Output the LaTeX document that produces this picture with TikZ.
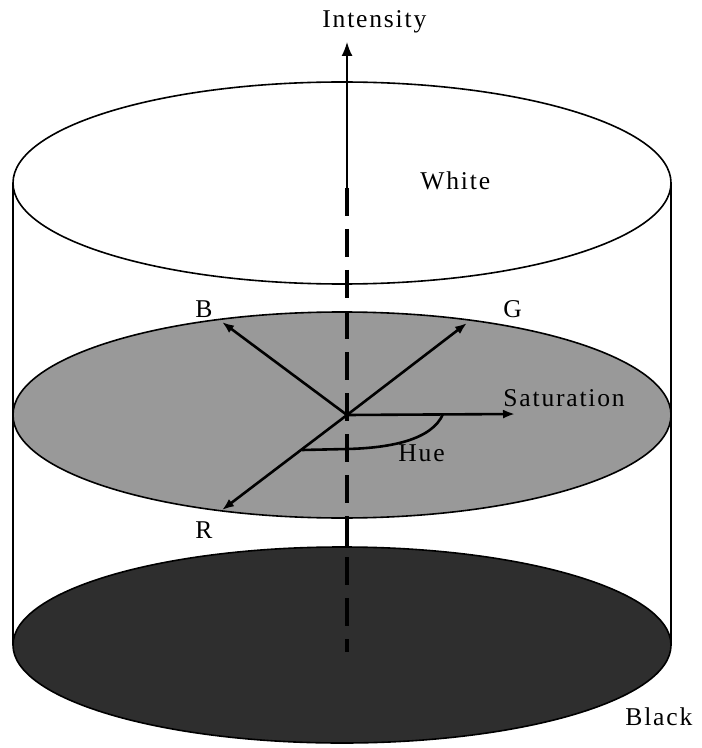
\documentclass[tikz,border=0pt]{standalone}
\usepackage{fontspec}
\setmainfont{Liberation Serif}[LetterSpace=7]
\usetikzlibrary{arrows.meta}

\begin{document}
\begin{tikzpicture}[
  x=0.5pt, y=-0.5pt,
  font=\fontsize{12.8}{14}\selectfont,
  rim/.style   ={draw=black, line width=0.8pt},
  axis/.style  ={line width=0.8pt, -{Latex[length=7pt,width=5.5pt]}},
  hidden/.style={line width=2pt, dash pattern=on 14pt off 6.5pt},
  vec/.style   ={line width=1.3pt, -{Latex[length=6pt,width=4.5pt]}},
  lbl/.style   ={inner sep=0pt, anchor=base west},
]
\useasboundingbox (0,0) rectangle (701,748);

% ---- cylinder ----
\coordinate (tl) at (13,183);
\coordinate (tr) at (671,183);
\coordinate (bl) at (13,645);
\coordinate (br) at (671,645);

\draw[rim] (342,183) ellipse [x radius=329, y radius=101];
\draw[rim] (tl) -- (bl);
\draw[rim] (tr) -- (br);

% mid slice and black base
\draw[rim, fill=black!40] (342,415) ellipse [x radius=329, y radius=103];
\draw[rim, fill=black!82] (342,645) ellipse [x radius=329, y radius=98];

% ---- intensity axis ----
\coordinate (top)  at (347,42);
\coordinate (cut)  at (347,188);
\coordinate (base) at (347,652);
\coordinate (gb)   at (347,518);
\coordinate (bt)   at (347,547);

\draw[hidden] (cut) -- (base);
\draw[line width=2pt] (gb) -- (bt);
\draw[axis] (cut) -- (top);

% ---- colour vectors ----
\coordinate (O) at (347,415);
\coordinate (b) at (222,322);
\coordinate (g) at (467,323);
\coordinate (r) at (222,510);
\coordinate (s) at (515,414);

\draw[vec] (O) -- (b);
\draw[vec] (O) -- (g);
\draw[vec] (O) -- (r);
\draw[vec] (O) -- (s);

% hue angle
\coordinate (h0) at (443,414);
\coordinate (h1) at (302,450);
\draw[line width=1.3pt] (h0) .. controls (432,440) and (390,448) .. (347,449) -- (h1);

% ---- labels ----
\node[lbl] (intensity) at (322,28)  {Intensity};
\node[lbl] (white)     at (420,190) {White};
\node[lbl] (blue)      at (195,317) {B};
\node[lbl] (green)     at (503,317) {G};
\node[lbl] (red)       at (195,538) {R};
\node[lbl] (sat)       at (503,406) {Saturation};
\node[lbl] (hue)       at (398,461) {Hue};
\node[lbl] (black)     at (625,725) {Black};

\end{tikzpicture}
\end{document}
